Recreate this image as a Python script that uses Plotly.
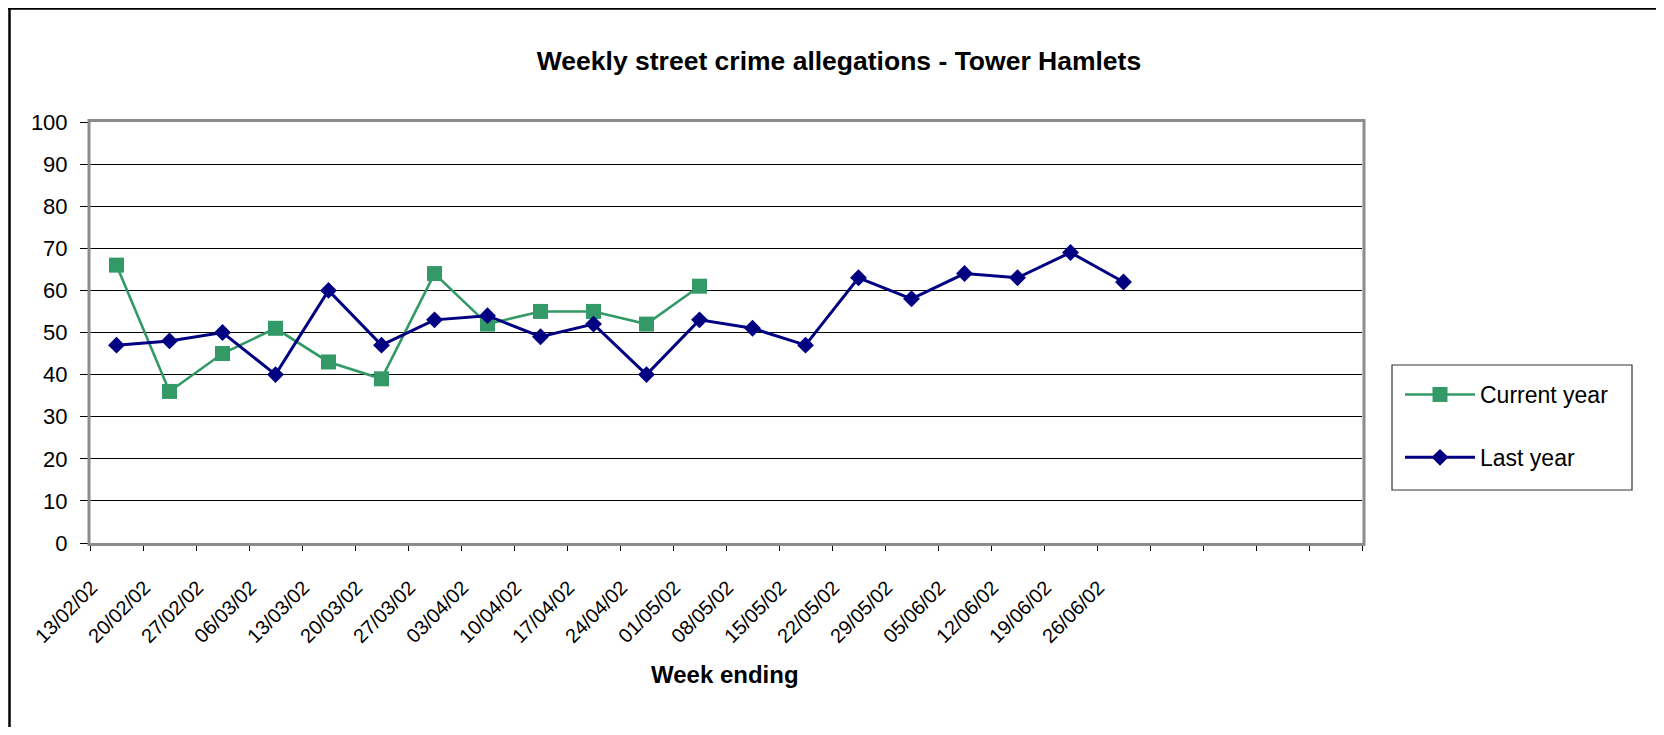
import plotly.graph_objects as go

weeks = ["13/02/02", "20/02/02", "27/02/02", "06/03/02", "13/03/02", "20/03/02",
         "27/03/02", "03/04/02", "10/04/02", "17/04/02", "24/04/02", "01/05/02",
         "08/05/02", "15/05/02", "22/05/02", "29/05/02", "05/06/02", "12/06/02",
         "19/06/02", "26/06/02"]
empty_slots = [" ", "  ", "   ", "    "]
current_year = [66, 36, 45, 51, 43, 39, 64, 52, 55, 55, 52, 61]
last_year = [47, 48, 50, 40, 60, 47, 53, 54, 49, 52, 40, 53, 51, 47, 63, 58, 64, 63, 69, 62]
y_ticks = list(range(0, 101, 10))

GREEN = "#339966"
NAVY = "#000080"
FONT = "Liberation Sans, Arial, sans-serif"

# page offset of the figure (default body margin)
OFF = 8
W, H = 1648, 719
L, T = 90 - OFF, 122 - OFF
R = W - (1362 - OFF)
B = H - (543 - OFF)
PW, PH = W - L - R, H - T - B


def px_x(x):  # page pixel -> paper
    return (x - OFF - L) / PW


def px_y(y):  # page pixel -> paper
    return (H - B - (y - OFF)) / PH


fig = go.Figure()
fig.add_trace(go.Scatter(
    x=weeks[:len(current_year)], y=current_year, name="Current year",
    mode="lines+markers", legendgroup="a",
    line=dict(color=GREEN, width=2.6),
    marker=dict(symbol="square", size=15, color=GREEN),
))
fig.add_trace(go.Scatter(
    x=weeks[:len(last_year)], y=last_year, name="Last year",
    mode="lines+markers", legendgroup="b",
    line=dict(color=NAVY, width=3),
    marker=dict(symbol="diamond", size=13, color=NAVY),
))

fig.update_layout(
    width=W, height=H,
    margin=dict(l=L, r=R, t=T, b=B, autoexpand=False),
    paper_bgcolor="white", plot_bgcolor="white",
    font=dict(family=FONT, size=21, color="black"),
    title=dict(text="<b>Weekly street crime allegations - Tower Hamlets</b>",
               font=dict(family=FONT, size=26.5, color="black"),
               x=(839 - OFF) / W, xref="container", xanchor="center",
               y=1 - (61 - OFF) / H, yref="container", yanchor="middle"),
    showlegend=True,
    legend=dict(x=px_x(1400), y=px_y(373), xanchor="left", yanchor="top",
                borderwidth=0, bgcolor="rgba(0,0,0,0)",
                font=dict(family=FONT, size=23, color="black"),
                traceorder="grouped", tracegroupgap=30, itemwidth=70),
    xaxis=dict(type="category", categoryorder="array",
               categoryarray=weeks + empty_slots,
               range=[-0.5, len(weeks) + len(empty_slots) - 0.5],
               tickson="boundaries", ticks="outside", ticklen=7, tickwidth=1,
               tickcolor="black", showgrid=False, showline=False, zeroline=False,
               tickangle=-45, tickfont=dict(family=FONT, size=20),
               ticklabelshift=-25, ticklabelstandoff=28),
    yaxis=dict(range=[0, 100], tickvals=y_ticks, ticks="outside", ticklen=9,
               tickcolor="black", showgrid=True, gridcolor="black", gridwidth=1,
               showline=False, zeroline=False, tickfont=dict(family=FONT, size=22),
               ticklabelstandoff=8),
    annotations=[dict(text="<b>Week ending</b>", xref="paper", yref="paper",
                      x=px_x(725), y=px_y(674), xanchor="center", yanchor="middle",
                      showarrow=False, font=dict(family=FONT, size=24, color="black"))],
    shapes=[
        # plot-area frame
        dict(type="rect", xref="paper", yref="paper",
             x0=px_x(89), x1=px_x(1364), y0=px_y(544.5), y1=px_y(120.5),
             line=dict(color="#8c8c8c", width=3), layer="above"),
        # legend box
        dict(type="rect", xref="paper", yref="paper",
             x0=px_x(1392), x1=px_x(1632), y0=px_y(490), y1=px_y(365),
             line=dict(color="#333333", width=1.2), layer="above"),
        # chart outer frame (left and top edges)
        dict(type="line", xref="paper", yref="paper",
             x0=px_x(9.5), x1=px_x(9.5), y0=px_y(8), y1=px_y(760),
             line=dict(color="black", width=2.5), layer="above"),
        dict(type="line", xref="paper", yref="paper",
             x0=px_x(8), x1=px_x(1700), y0=px_y(8.5), y1=px_y(8.5),
             line=dict(color="black", width=2.5), layer="above"),
    ],
)

fig.write_html("out.html")
